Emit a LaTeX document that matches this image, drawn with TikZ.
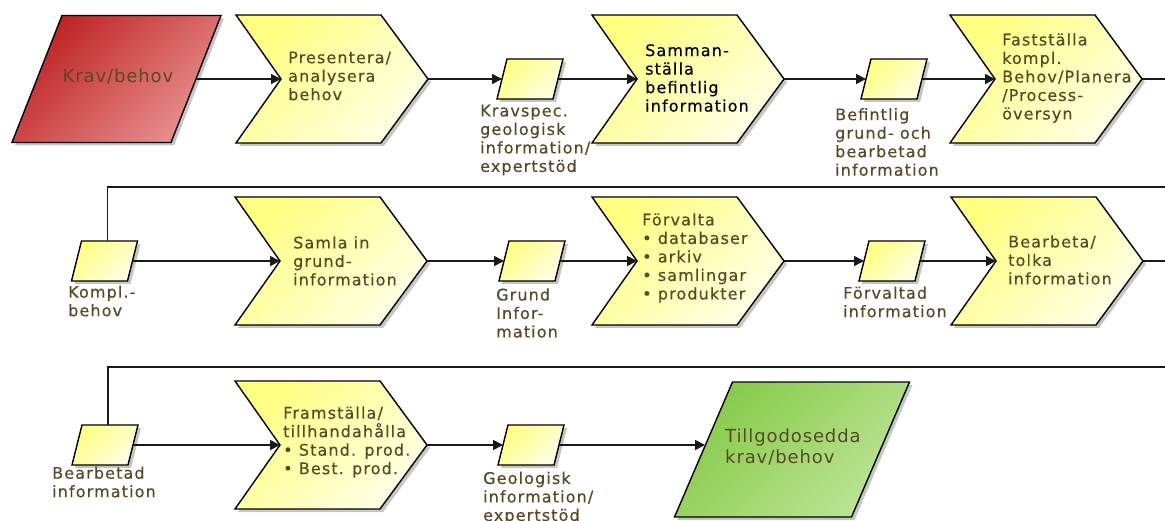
\documentclass[tikz,border=0pt]{standalone}
\usepackage{fontspec}
\newfontfamily\dvfont{DejaVu Sans}[LetterSpace=7,FakeBold=0.35]
\newfontfamily\dvbig{DejaVu Sans}[LetterSpace=5]
\usetikzlibrary{arrows.meta}
\definecolor{txt}{HTML}{5A4825}
\definecolor{yA}{HTML}{FFFF80}
\definecolor{yB}{HTML}{FFFFE6}
\definecolor{rA}{HTML}{BE2222}
\definecolor{rB}{HTML}{E89090}
\definecolor{gA}{HTML}{86CB48}
\definecolor{gB}{HTML}{BCE396}
\tikzset{
  border/.style={draw=black, line width=1.4pt, line join=miter},
  yfill/.style={border, top color=yA, bottom color=yB, shading angle=45},
  rfill/.style={border, top color=rA, bottom color=rB, shading angle=45},
  gfill/.style={border, top color=gA, bottom color=gB, shading angle=45},
  shadowfill/.style={fill=black!50, opacity=0.45, shift={(3,3)}},
  lbl/.style={font=\dvfont\fontsize{16}{18.5}\selectfont, text=txt, align=left, inner sep=0pt, anchor=west},
  biglbl/.style={font=\dvbig\fontsize{18}{21}\selectfont, text=txt, align=left, inner sep=0pt, anchor=west},
  conn/.style={line width=1.6pt, draw=black!90},
  arr/.style={conn, -{Triangle[length=10pt,width=10pt]}}
}
% chevron: name, left x, top y, bottom y
\newcommand\mychev[4]{%
  \path[shadowfill] ({#2},{#3}) -- ({#2+145},{#3}) -- ({#2+192},{(#3+#4)/2}) -- ({#2+145},{#4}) -- ({#2},{#4}) -- ({#2+45},{(#3+#4)/2}) -- cycle;
  \path[yfill] ({#2},{#3}) -- ({#2+145},{#3}) -- ({#2+192},{(#3+#4)/2}) -- ({#2+145},{#4}) -- ({#2},{#4}) -- ({#2+45},{(#3+#4)/2}) -- cycle;
  \coordinate (#1-in) at ({#2+45},{(#3+#4)/2});
  \coordinate (#1-out) at ({#2+192},{(#3+#4)/2});
}
% parallelogram: style, name, cx, cy, half width, skew, half height
\newcommand\mypara[7]{%
  \path[shadowfill] ({#3-#5+#6},{#4-#7}) -- ({#3+#5+#6},{#4-#7}) -- ({#3+#5-#6},{#4+#7}) -- ({#3-#5-#6},{#4+#7}) -- cycle;
  \path[#1] ({#3-#5+#6},{#4-#7}) -- ({#3+#5+#6},{#4-#7}) -- ({#3+#5-#6},{#4+#7}) -- ({#3-#5-#6},{#4+#7}) -- cycle;
  \coordinate (#2-in) at ({#3-#5},{#4});
  \coordinate (#2-out) at ({#3+#5},{#4});
  \coordinate (#2-top) at ({#3+3},{#4-#7});
}
\begin{document}
\begin{tikzpicture}[x=1pt, y=-1pt]
\useasboundingbox[fill=white] (0,0) rectangle (1165,521);
\clip (0,0) rectangle (1165,521);

% shapes
\mypara{rfill}{red}{116.5}{79}{79.5}{25}{63.5}
\mychev{c1}{236}{15}{143}
\mypara{yfill}{p1}{530}{79}{28}{5}{20}
\mychev{c2}{592}{15}{143}
\mypara{yfill}{p2}{894}{79}{28}{5}{20}
\mychev{c3}{950}{15}{143}

\mypara{yfill}{p3}{104.5}{261}{28}{5}{20}
\mychev{c4}{235}{197}{325}
\mypara{yfill}{p4}{532}{261}{28}{5}{20}
\mychev{c5}{592}{197}{325}
\mypara{yfill}{p5}{892}{261}{28}{5}{20}
\mychev{c6}{951}{197}{325}

\mypara{yfill}{p6}{105}{445}{28}{5}{20}
\mychev{c7}{235}{381}{509}
\mypara{yfill}{p7}{531}{445}{28}{5}{20}
\mypara{gfill}{green}{792}{449.5}{88.5}{29}{67.5}
\coordinate (green-in2) at (705,445);

% texts
\node[biglbl, anchor=center] (red-t) at (118,77) {Krav/behov};
\node[lbl] (c1-t) at (288,76) {Presentera/\\analysera\\behov};
\node[lbl] (p1-t) at (480,140) {Kravspec.\\geologisk\\information/\\expertstöd};
\node[lbl, text=black] (c2-t) at (645,78) {Samman-\\ställa\\befintlig\\information};
\node[lbl] (p2-t) at (835,142) {Befintlig\\grund- och\\bearbetad\\information};
\node[lbl] (c3-t) at (1002,78) {Fastställa\\kompl.\\Behov/Planera\\/Process-\\översyn};

\node[lbl] (p3-t) at (68,301) {Kompl.-\\behov};
\node[lbl] (c4-t) at (293,261) {Samla in\\grund-\\information};
\node[lbl] (p4-t) at (496,313) {Grund\\Infor-\\mation};
\node[lbl] (c5-t) at (642,258) {Förvalta\\• databaser\\• arkiv\\• samlingar\\• produkter};
\node[lbl] (p5-t) at (843,302) {Förvaltad\\information};
\node[lbl] (c6-t) at (1008,260) {Bearbeta/\\tolka\\information};

\node[lbl] (p6-t) at (52,482) {Bearbetad\\information};
\node[lbl] (c7-t) at (283,442) {Framställa/\\tillhandahålla\\• Stand. prod.\\• Best. prod.};
\node[lbl] (p7-t) at (483,498) {Geologisk\\information/\\expertstöd};
\node[biglbl] (green-t) at (725,447) {Tillgodosedda\\krav/behov};

% connectors
\coordinate (w1) at (1190,187);
\coordinate (w2) at (1190,367);
\draw[arr] (red-out) -- (c1-in);
\draw[arr] (c1-out) -- (p1-in);
\draw[arr] (p1-out) -- (c2-in);
\draw[arr] (c2-out) -- (p2-in);
\draw[arr] (p2-out) -- (c3-in);
\draw[conn] (c3-out) -| (w1) -| (p3-top);

\draw[arr] (p3-out) -- (c4-in);
\draw[arr] (c4-out) -- (p4-in);
\draw[arr] (p4-out) -- (c5-in);
\draw[arr] (c5-out) -- (p5-in);
\draw[arr] (p5-out) -- (c6-in);
\draw[conn] (c6-out) -| (w2) -| (p6-top);

\draw[arr] (p6-out) -- (c7-in);
\draw[arr] (c7-out) -- (p7-in);
\draw[arr] (p7-out) -- (green-in2);
\end{tikzpicture}
\end{document}
